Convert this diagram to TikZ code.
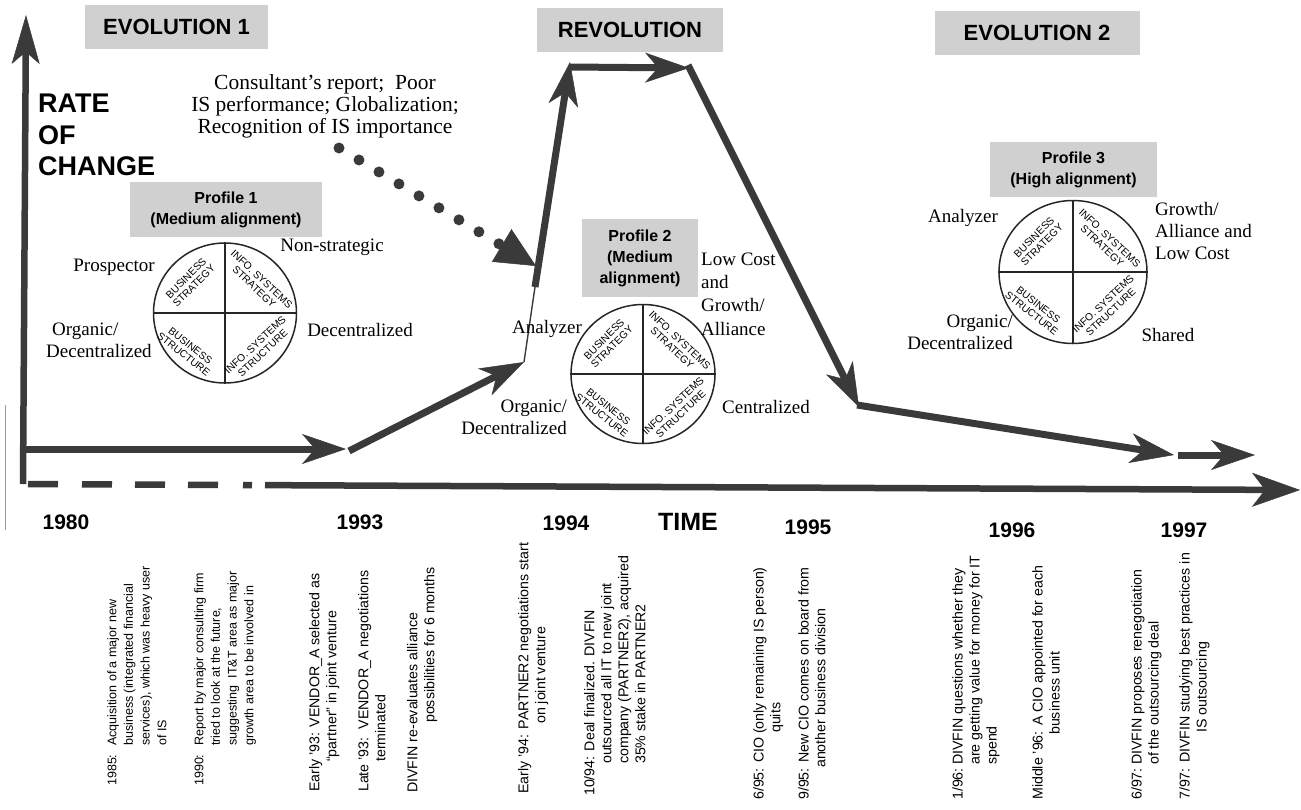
\documentclass[tikz,border=0pt]{standalone}
\usepackage{fontspec}
\setmainfont{Liberation Serif}
\setsansfont{Liberation Sans}
\usetikzlibrary{arrows.meta,shapes.geometric}

\definecolor{ink}{HTML}{3A3A3A}
\definecolor{boxgray}{HTML}{D0D0D0}

\newcommand{\fs}[2]{\fontsize{#1}{#2}\selectfont}

% one alignment wheel: name, centre, width, height
\newcommand{\drawwheel}[4]{%
  \node[wheel, ellipse, minimum width=#3pt, minimum height=#4pt, inner sep=0pt] (#1) at (#2) {};
  \draw[wheel] (#1.north) -- (#1.south);
  \draw[wheel] (#1.west) -- (#1.east);
  \node[quad, rotate=45]  at ([shift={(-35,-31)}]#1.center) {BUSINESS\\STRATEGY};
  \node[quad, rotate=-43] at ([shift={(33,-30)}]#1.center) {INFO. SYSTEMS\\STRATEGY};
  \node[quad, rotate=-38] at ([shift={(-38,37)}]#1.center) {BUSINESS\\STRUCTURE};
  \node[quad, rotate=43]  at ([shift={(34,36)}]#1.center) {INFO. SYSTEMS\\STRUCTURE};
}

\begin{document}
\begin{tikzpicture}[x=1pt,y=-1pt,
  trail/.style={draw=ink, line width=7pt,
    -{Stealth[length=44pt,width=30pt,inset=13pt,line width=0.5pt]}},
  thinlink/.style={draw=ink, line width=1.4pt},
  axis/.style={draw=ink, line width=6.5pt},
  header/.style={fill=boxgray, font=\sffamily\bfseries\fs{22}{26}, minimum height=44pt, inner sep=0pt},
  profile/.style={fill=boxgray, font=\sffamily\bfseries\fs{16}{21}, align=center, inner sep=0pt},
  wheel/.style={draw=black!85, line width=1.5pt},
  quad/.style={font=\sffamily\fs{10.3}{11}, align=center, inner sep=0pt},
  lbl/.style={font=\fs{19}{22}, inner sep=0pt},
  yearlbl/.style={font=\sffamily\bfseries\fs{21}{24}, inner sep=0pt},
  event/.style={rotate=90, anchor=north west, font=\sffamily\fs{14.2}{17}, align=left, inner sep=0pt},
  smallevent/.style={event, font=\sffamily\fs{12.5}{16.7}},
]
\useasboundingbox (0,0) rectangle (1301,809);

% stray scan edge on the left
\draw[black!40, line width=0.8pt] (5,405) -- (5,530);

% ---------- axes ----------
\coordinate (origin) at (23,484);
\coordinate (ytip) at (26,15);
\coordinate (xstart) at (28,484);
\coordinate (xtip) at (1300,490);
\draw[axis, -{Stealth[length=49pt,width=28pt,inset=12pt,line width=0.5pt]}] (origin) -- (ytip);
\draw[axis, dash pattern=on 30pt off 24pt on 30pt off 23pt on 30pt off 23pt on 30pt off 25pt on 9pt off 13pt on 2000pt,
      -{Stealth[length=48pt,width=34pt,inset=13pt,line width=0.5pt]}] (xstart) -- (xtip);

\node[font=\sffamily\bfseries\fs{27}{31.5}, align=left, anchor=west, inner sep=0pt] (rate) at (38,135) {RATE\\OF\\CHANGE};

% ---------- era headers ----------
\node[header, minimum width=183pt] (evo1) at (176.5,26.5) {EVOLUTION 1};
\node[header, minimum width=186pt] (revo) at (630,30) {REVOLUTION};
\node[header, minimum width=205pt] (evo2) at (1037,33) {EVOLUTION 2};

% ---------- path of change ----------
\coordinate (p0) at (25,449);
\coordinate (p1) at (346,449);
\coordinate (p2) at (349,451);
\coordinate (p3) at (524,362);
\coordinate (p4) at (535,287);
\coordinate (p5) at (570,62);
\coordinate (p6) at (569,67);
\coordinate (p7) at (689,68);
\coordinate (p8) at (688,65);
\coordinate (p9) at (859,407);
\coordinate (p10) at (857,405);
\coordinate (p11) at (1174,455);
\coordinate (p12) at (1178,455);
\coordinate (p13) at (1255,455);

\draw[trail] (p0) -- (p1);
\draw[trail] (p2) -- (p3);
\draw[thinlink] (p3) -- (p4);
\draw[trail] (p4) -- (p5);
\draw[trail] (p6) -- (p7);
\draw[trail] (p8) -- (p9);
\draw[trail] (p10) -- (p11);
\draw[trail] (p12) -- (p13);

% ---------- trigger ----------
\node[lbl, align=center, font=\fs{21.5}{22}] (cause) at (325,106)
  {Consultant’s report;\ \ Poor\\IS performance; Globalization;\\Recognition of IS importance};
\coordinate (dotstart) at (339,148);
\coordinate (dottip) at (536,266);
\draw[ink, line width=11pt, line cap=round, dash pattern=on 0pt off 23.3pt,
      -{Triangle[length=40pt,width=38pt,line width=0.5pt]}] (dotstart) -- (dottip);

% ---------- profile 1 ----------
\node[profile, minimum width=192pt, minimum height=55pt] (prof1) at (226,209.5) {Profile 1\\(Medium alignment)};
\drawwheel{w1}{225,313}{143}{140}
\node[lbl] (w1bs) at (114,267) {Prospector};
\node[lbl] (w1is) at (332,247) {Non-strategic};
\node[lbl, align=left, anchor=west] (w1bst) at (46,340) {\hspace*{6pt}Organic/\\Decentralized};
\node[lbl] (w1ist) at (360,330) {Decentralized};

% ---------- profile 2 ----------
\node[profile, minimum width=116pt, minimum height=78pt] (prof2) at (640,258) {Profile 2\\(Medium\\alignment)};
\drawwheel{w2}{643,374}{144}{139}
\node[lbl] (w2bs) at (547,329) {Analyzer};
\node[lbl, align=left, anchor=west, font=\fs{19}{23.3}] (w2is) at (701,294) {Low Cost\\and\\Growth/\\Alliance};
\node[lbl, align=right, anchor=east] (w2bst) at (567,417.5) {Organic/\\Decentralized};
\node[lbl] (w2ist) at (766,407) {Centralized};

% ---------- profile 3 ----------
\node[profile, minimum width=167pt, minimum height=55pt] (prof3) at (1073.5,169.5) {Profile 3\\(High alignment)};
\drawwheel{w3}{1073,272}{148}{143}
\node[lbl] (w3bs) at (963,218) {Analyzer};
\node[lbl, align=left, anchor=west] (w3is) at (1155,230.5) {Growth/\\Alliance and\\Low Cost};
\node[lbl, align=right, anchor=east] (w3bst) at (1013,332.5) {Organic/\\Decentralized};
\node[lbl] (w3ist) at (1168,335) {Shared};

% ---------- time labels ----------
\node[yearlbl] (y80) at (66,522) {1980};
\node[yearlbl] (y93) at (360,522) {1993};
\node[yearlbl] (y94) at (566,523) {1994};
\node[yearlbl, font=\sffamily\bfseries\fs{25}{28}] (time) at (688,522) {TIME};
\node[yearlbl] (y95) at (808,527) {1995};
\node[yearlbl] (y96) at (1012,530) {1996};
\node[yearlbl] (y97) at (1184,530) {1997};

% ---------- events ----------
\node[smallevent] (e85) at (107,786) {\makebox[40pt][l]{1985:}Acquisition of a major new\\\hspace*{40pt}business (integrated financial\\\hspace*{40pt}services), which was heavy user\\\hspace*{40pt}of IS};
\node[smallevent] (e90) at (194,786) {\makebox[40pt][l]{1990:}Report by major consulting firm\\\hspace*{40pt}tried to look at the future,\\\hspace*{40pt}suggesting\ \ IT\&T area as major\\\hspace*{40pt}growth area to be involved in};
\node[event] (e93a) at (309,792) {Early ’93: VENDOR\_A selected as\\\hspace*{30pt}“partner” in joint venture};
\node[event] (e93b) at (358,792) {Late ’93:\ \ VENDOR\_A negotiations\\\hspace*{30pt}terminated};
\node[event] (e93c) at (407,793) {DIVFIN re-evaluates alliance\\\hspace*{70pt}possibilities for 6 months};
\node[event] (e94a) at (518,794) {Early ’94: PARTNER2 negotiations start\\\hspace*{70pt}on joint venture};
\node[event] (e94b) at (584,796) {10/94: Deal finalized. DIVFIN\\\hspace*{32pt}outsourced all IT to new joint\\\hspace*{32pt}company (PARTNER2), acquired\\\hspace*{32pt}35\% stake in PARTNER2};
\node[event] (e95a) at (753,800) {6/95: CIO (only remaining IS person)\\\hspace*{67pt}quits};
\node[event] (e95b) at (798,800) {9/95: New CIO comes on board from\\\hspace*{32pt}another business division};
\node[event] (e96a) at (952,800) {\makebox[35pt][l]{1/96:}DIVFIN questions whether they\\\hspace*{35pt}are getting value for money for IT\\\hspace*{35pt}spend};
\node[event] (e96b) at (1032,800) {Middle ’96: A CIO appointed for each\\\hspace*{65pt}business unit};
\node[event] (e97a) at (1131,800) {\makebox[35pt][l]{6/97:}DIVFIN proposes renegotiation\\\hspace*{35pt}of the outsourcing deal};
\node[event] (e97b) at (1179,800) {7/97: DIVFIN studying best practices in\\\hspace*{67pt}IS outsourcing};
\end{tikzpicture}
\end{document}
